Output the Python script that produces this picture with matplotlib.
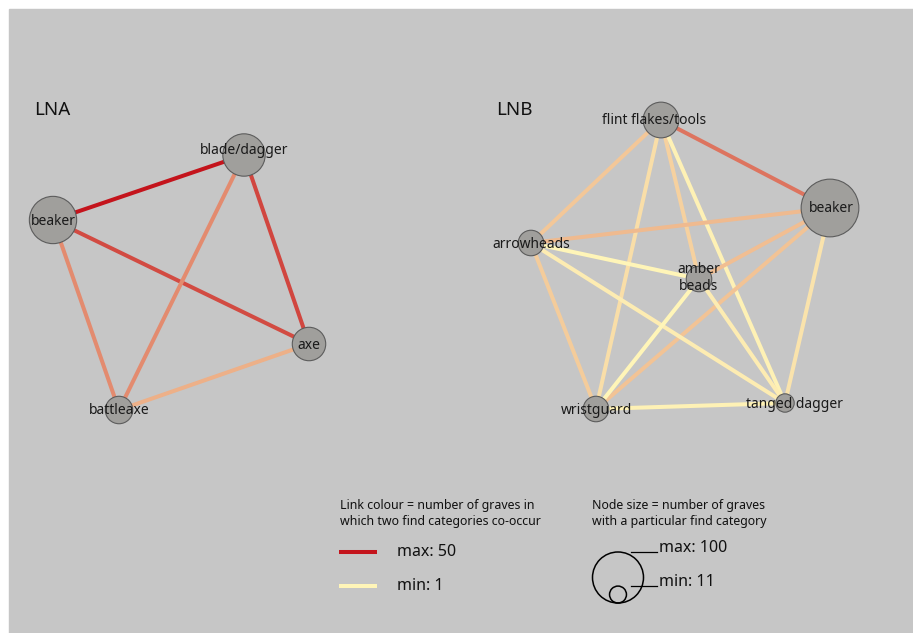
import numpy as np
import matplotlib.pyplot as plt
from matplotlib.patches import Circle, Rectangle
from matplotlib.colors import LinearSegmentedColormap, Normalize

plt.rcParams['font.family'] = ['Noto Sans', 'DejaVu Sans']

# node counts (graves with each find category)
lna_nodes = ['beaker', 'blade/dagger', 'axe', 'battleaxe']
lna_counts = [86, 69, 43, 29]
lnb_nodes = ['flint flakes/tools', 'beaker', 'arrowheads', 'amber\nbeads', 'wristguard', 'tanged dagger']
lnb_counts = [49, 128, 25, 25, 25, 13]

# links: (i, j, co-occurring graves)
lna_links = [(0, 1, 50), (1, 2, 39), (0, 2, 38), (0, 3, 24), (1, 3, 24), (2, 3, 16)]
lnb_links = [(0, 1, 29), (0, 2, 11), (0, 4, 6), (0, 3, 9), (0, 5, 2),
             (1, 2, 14), (1, 3, 13), (1, 4, 12), (1, 5, 5),
             (2, 3, 1), (2, 4, 10), (2, 5, 3),
             (3, 4, 1), (3, 5, 3), (4, 5, 2)]

link_min, link_max = 1, 50
size_min, size_max = 11, 100

# layout (pixel coords of the force layout)
lna_pos = [(53, 220), (244, 155), (309, 344), (119, 410)]
lnb_pos = [(661, 120), (830, 208), (531, 243), (699, 279), (596, 409), (785, 403)]
lna_lab_off = [(0, 1.5), (0, -4), (0, 1.5), (0, 1)]
lnb_lab_off = [(-7, 0), (1, 1), (0, 1), (0, -1), (0, 1), (10, 1)]

cmap = LinearSegmentedColormap.from_list('link', ['#fff5b8', '#c4141c'])
norm = Normalize(link_min, link_max)


def radius(n):
    return 2.55 * np.sqrt(n)


fig = plt.figure(figsize=(9.13, 6.33), dpi=100)
ax = fig.add_axes([0, 0, 1, 1])
ax.set_xlim(0, 913)
ax.set_ylim(633, 0)
ax.axis('off')
ax.add_patch(Rectangle((9, 9), 910, 630, color='#c6c6c6', zorder=0))

lw = 2.9


def draw_net(names, counts, links, pos, offs, title, tpos):
    for i, j, v in links:
        ax.plot([pos[i][0], pos[j][0]], [pos[i][1], pos[j][1]],
                color=cmap(norm(v)), lw=lw, solid_capstyle='butt', zorder=1)
    for name, n, (x, y), (dx, dy) in zip(names, counts, pos, offs):
        ax.add_patch(Circle((x, y), radius(n), facecolor='#a09f9c',
                            edgecolor='#5c5c5c', lw=0.8, zorder=2))
        ax.text(x + dx, y + dy, name, ha='center', va='center', fontsize=10,
                color='#1a1a1a', linespacing=1.15, zorder=3)
    ax.text(tpos[0], tpos[1], title, fontsize=13.5, va='center', color='#111111')


draw_net(lna_nodes, lna_counts, lna_links, lna_pos, lna_lab_off, 'LNA', (34, 110))
draw_net(lnb_nodes, lnb_counts, lnb_links, lnb_pos, lnb_lab_off, 'LNB', (496, 110))

# link colour legend
ax.text(340, 513, 'Link colour = number of graves in\nwhich two find categories co-occur',
        fontsize=8.9, va='center', color='#111111', linespacing=1.3)
for y, v, lab in [(552, link_max, 'max: 50'), (586, link_min, 'min: 1')]:
    ax.plot([339, 377], [y, y], color=cmap(norm(v)), lw=lw, solid_capstyle='butt')
    ax.text(397, y, lab, fontsize=11.5, va='center', color='#111111')

# node size legend
ax.text(592, 513, 'Node size = number of graves\nwith a particular find category',
        fontsize=8.9, va='center', color='#111111', linespacing=1.3)
base = 603
for n, lab in [(size_max, 'max: 100'), (size_min, 'min: 11')]:
    r = radius(n)
    ax.add_patch(Circle((618, base - r), r, facecolor='none', edgecolor='black', lw=1.1))
    ytop = base - 2 * r
    ax.plot([631, 657], [ytop, ytop], color='black', lw=0.9)
    ax.text(659, ytop - 4, lab, fontsize=11.5, va='center', color='#111111')

fig.savefig('out.png', dpi=100)
